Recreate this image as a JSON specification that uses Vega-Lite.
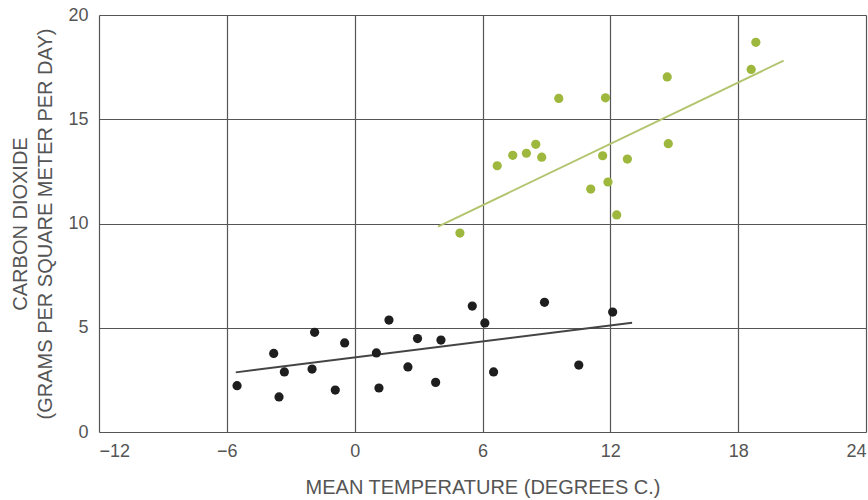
{
  "$schema": "https://vega.github.io/schema/vega-lite/v6.json",
  "autosize": {"type": "none"},
  "padding": {"left": 99, "top": 15, "right": 2, "bottom": 68},
  "width": 767,
  "height": 417,
  "background": "white",
  "config": {
    "view": {"stroke": null},
    "font": "Liberation Sans",
    "axis": {
      "labelFont": "Liberation Sans",
      "titleFont": "Liberation Sans",
      "labelColor": "#555",
      "titleColor": "#555",
      "labelFontSize": 18,
      "titleFontSize": 20,
      "titleFontWeight": "normal",
      "grid": true,
      "gridColor": "#555",
      "gridWidth": 1.2,
      "gridOpacity": 1,
      "domain": false,
      "ticks": false
    }
  },
  "datasets": {
    "points": [
      {"temp": -5.52, "co2": 2.22, "group": "low"},
      {"temp": -3.80, "co2": 3.77, "group": "low"},
      {"temp": -3.30, "co2": 2.88, "group": "low"},
      {"temp": -3.55, "co2": 1.68, "group": "low"},
      {"temp": -1.88, "co2": 4.78, "group": "low"},
      {"temp": -2.00, "co2": 3.02, "group": "low"},
      {"temp": -0.91, "co2": 2.01, "group": "low"},
      {"temp": -0.47, "co2": 4.27, "group": "low"},
      {"temp": 1.02, "co2": 3.79, "group": "low"},
      {"temp": 1.14, "co2": 2.11, "group": "low"},
      {"temp": 1.61, "co2": 5.37, "group": "low"},
      {"temp": 2.50, "co2": 3.12, "group": "low"},
      {"temp": 2.95, "co2": 4.48, "group": "low"},
      {"temp": 3.80, "co2": 2.38, "group": "low"},
      {"temp": 4.05, "co2": 4.41, "group": "low"},
      {"temp": 5.52, "co2": 6.04, "group": "low"},
      {"temp": 6.11, "co2": 5.23, "group": "low"},
      {"temp": 6.52, "co2": 2.88, "group": "low"},
      {"temp": 8.91, "co2": 6.22, "group": "low"},
      {"temp": 10.52, "co2": 3.21, "group": "low"},
      {"temp": 12.11, "co2": 5.75, "group": "low"},
      {"temp": 18.83, "co2": 18.69, "group": "high"},
      {"temp": 18.61, "co2": 17.39, "group": "high"},
      {"temp": 14.67, "co2": 17.03, "group": "high"},
      {"temp": 9.58, "co2": 16.00, "group": "high"},
      {"temp": 11.77, "co2": 16.03, "group": "high"},
      {"temp": 8.50, "co2": 13.80, "group": "high"},
      {"temp": 8.06, "co2": 13.37, "group": "high"},
      {"temp": 7.42, "co2": 13.27, "group": "high"},
      {"temp": 8.78, "co2": 13.18, "group": "high"},
      {"temp": 6.69, "co2": 12.77, "group": "high"},
      {"temp": 11.64, "co2": 13.25, "group": "high"},
      {"temp": 12.80, "co2": 13.09, "group": "high"},
      {"temp": 14.72, "co2": 13.83, "group": "high"},
      {"temp": 11.89, "co2": 11.99, "group": "high"},
      {"temp": 11.08, "co2": 11.65, "group": "high"},
      {"temp": 12.30, "co2": 10.41, "group": "high"},
      {"temp": 4.94, "co2": 9.54, "group": "high"}
    ],
    "lines": [
      {"temp": -5.58, "co2": 2.86, "group": "low"},
      {"temp": 13.02, "co2": 5.24, "group": "low"},
      {"temp": 3.91, "co2": 9.85, "group": "high"},
      {"temp": 20.13, "co2": 17.81, "group": "high"}
    ]
  },
  "layer": [
    {
      "data": {"name": "lines"},
      "mark": {"type": "line", "strokeWidth": 2},
      "encoding": {
        "x": {
          "field": "temp", "type": "quantitative",
          "scale": {"domain": [-12, 24], "nice": false, "zero": false},
          "axis": {
            "values": [-12, -6, 0, 6, 12, 18, 24],
            "title": "MEAN TEMPERATURE (DEGREES C.)",
            "labelPadding": 10,
            "titlePadding": 17
          }
        },
        "y": {
          "field": "co2", "type": "quantitative",
          "scale": {"domain": [0, 20], "nice": false},
          "axis": {
            "values": [0, 5, 10, 15, 20],
            "title": ["CARBON DIOXIDE", "(GRAMS PER SQUARE METER PER DAY)"],
            "labelPadding": 11,
            "titlePadding": 12,
            "titleLineHeight": 25
          }
        },
        "color": {
          "field": "group", "type": "nominal",
          "scale": {"domain": ["low", "high"], "range": ["#444444", "#b2c56e"]},
          "legend": null
        },
        "detail": {"field": "group"}
      }
    },
    {
      "data": {"name": "points"},
      "mark": {"type": "point", "filled": true, "size": 85, "opacity": 1},
      "encoding": {
        "x": {"field": "temp", "type": "quantitative"},
        "y": {"field": "co2", "type": "quantitative"},
        "color": {
          "field": "group", "type": "nominal",
          "scale": {"domain": ["low", "high"], "range": ["#1e1e1e", "#9db83c"]},
          "legend": null
        }
      }
    }
  ],
  "resolve": {"scale": {"color": "independent"}}
}
